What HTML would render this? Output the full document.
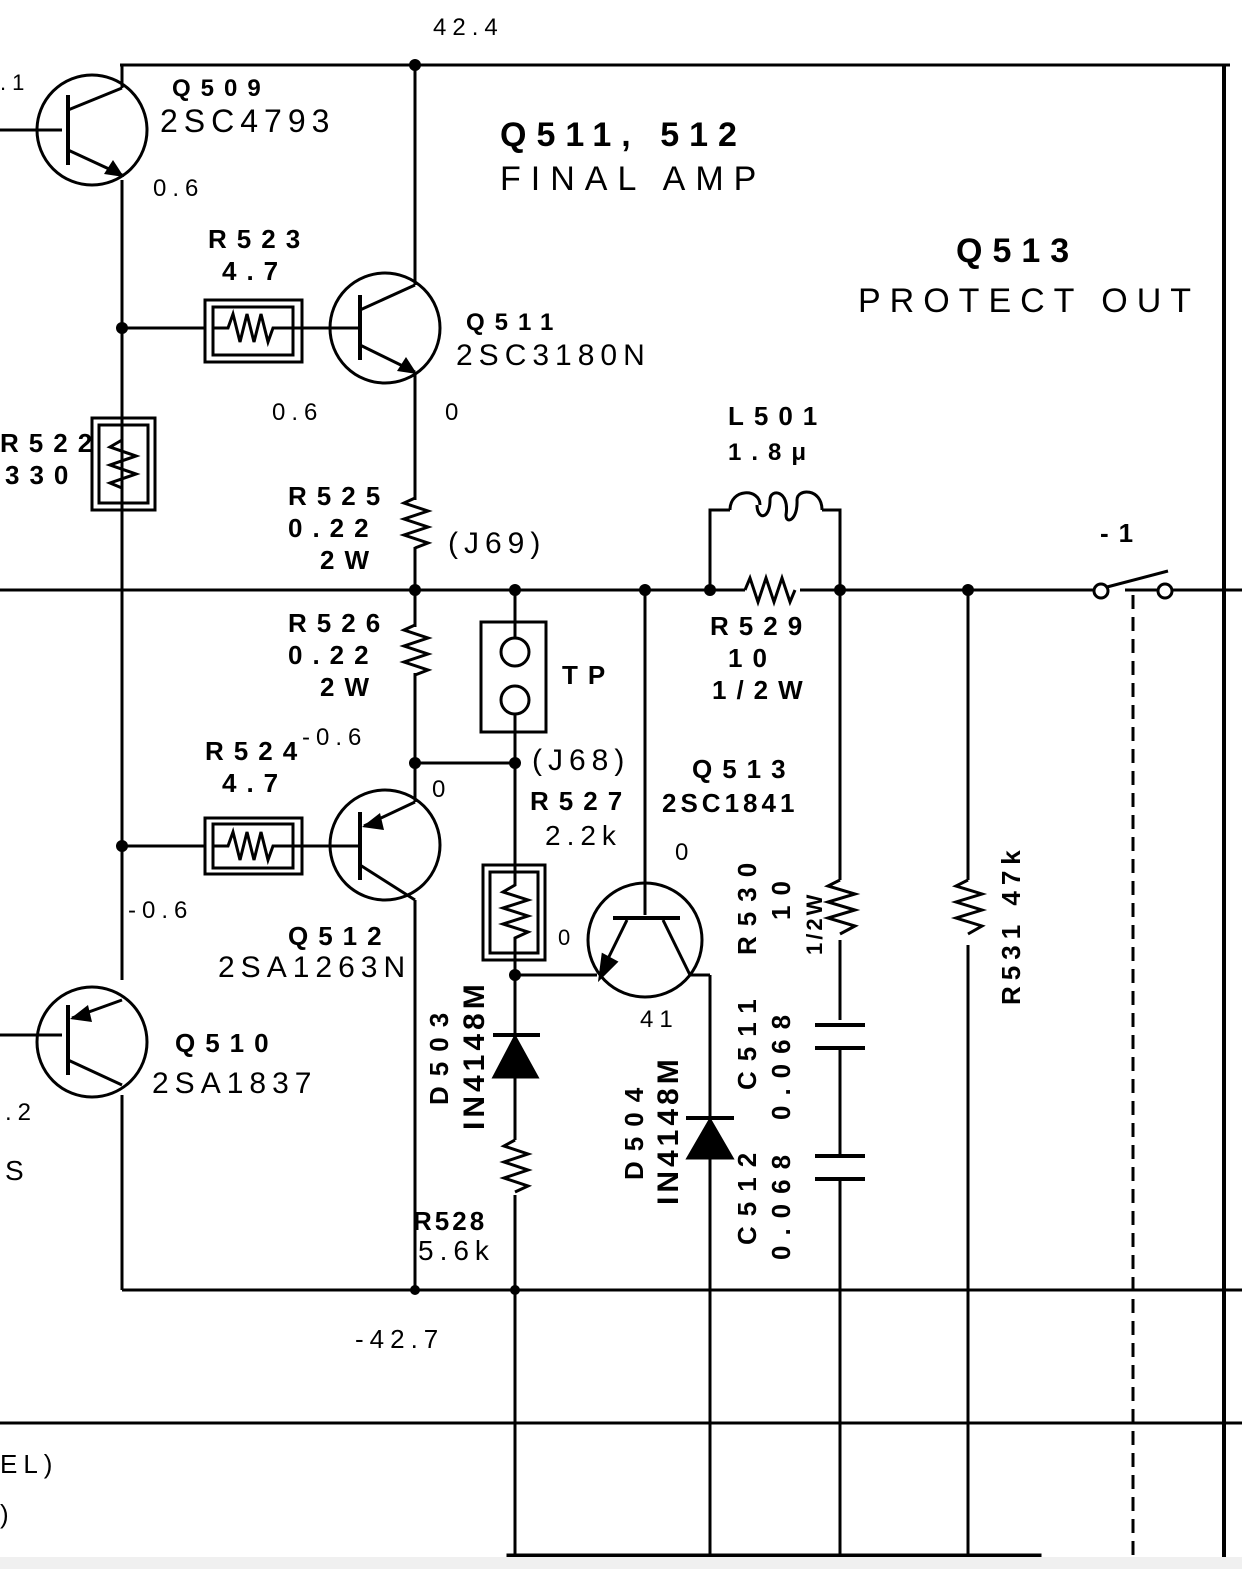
<!DOCTYPE html>
<html><head><meta charset="utf-8"><style>
html,body{margin:0;padding:0;background:#fff;}
svg{display:block;}
text{font-family:"Liberation Sans",sans-serif;fill:#000;}
.m text{letter-spacing:6px;}
.b text{font-weight:bold;letter-spacing:10px;}
</style></head><body>
<svg width="1242" height="1569" viewBox="0 0 1242 1569" xmlns="http://www.w3.org/2000/svg">
<g stroke="#000" stroke-width="3" fill="none">
<line x1="120" y1="65" x2="1230" y2="65"/>
<line x1="1224" y1="65" x2="1224" y2="1560" stroke-width="4"/>
<line x1="122" y1="180" x2="122" y2="980"/>
<line x1="122" y1="1095" x2="122" y2="1290"/>
<line x1="122" y1="1290" x2="1242" y2="1290"/>
<line x1="0" y1="1423" x2="1242" y2="1423"/>
<line x1="0" y1="590" x2="1242" y2="590"/>
<circle cx="92" cy="130" r="55"/>
<line x1="0" y1="130" x2="62" y2="130"/>
<line x1="68" y1="95" x2="68" y2="165" stroke-width="4"/>
<line x1="68" y1="110" x2="122" y2="88"/>
<line x1="122" y1="88" x2="122" y2="65"/>
<line x1="68" y1="150" x2="122" y2="175"/>
<circle cx="92" cy="1042" r="55"/>
<line x1="0" y1="1035" x2="62" y2="1035"/>
<line x1="68" y1="1005" x2="68" y2="1075" stroke-width="4"/>
<line x1="72" y1="1018" x2="122" y2="1000"/>
<line x1="68" y1="1060" x2="122" y2="1085"/>
<circle cx="385" cy="328" r="55"/>
<line x1="360" y1="295" x2="360" y2="360" stroke-width="4"/>
<line x1="300" y1="328" x2="360" y2="328"/>
<line x1="360" y1="310" x2="415" y2="285"/>
<line x1="360" y1="345" x2="415" y2="372"/>
<line x1="415" y1="65" x2="415" y2="285"/>
<line x1="415" y1="372" x2="415" y2="802"/>
<circle cx="385" cy="845" r="55"/>
<line x1="360" y1="812" x2="360" y2="880" stroke-width="4"/>
<line x1="300" y1="846" x2="360" y2="846"/>
<line x1="364" y1="826" x2="415" y2="802"/>
<line x1="360" y1="865" x2="415" y2="900"/>
<line x1="415" y1="900" x2="415" y2="1290"/>
<line x1="122" y1="328" x2="205" y2="328"/>
<rect x="205" y="300" width="97" height="62"/>
<rect x="213" y="307" width="80" height="48"/>
<polyline points="213,328 228,328 233,314 240,342 247,314 254,342 261,314 268,342 273,328 293,328"/>
<line x1="293" y1="328" x2="330" y2="328"/>
<line x1="122" y1="846" x2="205" y2="846"/>
<rect x="205" y="818" width="97" height="56"/>
<rect x="213" y="824" width="80" height="44"/>
<polyline points="213,846 228,846 233,832 240,860 247,832 254,860 261,832 268,860 273,846 293,846"/>
<line x1="293" y1="846" x2="330" y2="846"/>
<rect x="92" y="418" width="63" height="92"/>
<rect x="99" y="425" width="49" height="78"/>
<polyline points="122,418 122,440 110,447 136,456 110,465 136,474 110,483 122,488 122,510"/>
<polyline stroke="#fff" stroke-width="5" points="415,500 415,547"/>
<polyline points="415,498 404,503 428,511 404,519 428,527 404,535 428,543 415,548"/>
<polyline stroke="#fff" stroke-width="5" points="415,627 415,673"/>
<polyline points="415,625 404,630 428,638 404,646 428,654 404,662 428,670 415,675"/>
<line x1="515" y1="590" x2="515" y2="1569"/>
<rect x="481" y="622" width="65" height="110" fill="#fff"/>
<line x1="515" y1="622" x2="515" y2="638"/>
<line x1="515" y1="714" x2="515" y2="732"/>
<circle cx="515" cy="652" r="14" fill="#fff"/>
<circle cx="515" cy="700" r="14" fill="#fff"/>
<line x1="415" y1="763" x2="515" y2="763"/>
<rect x="483" y="865" width="62" height="95" fill="#fff"/>
<rect x="490" y="872" width="48" height="81"/>
<polyline points="515,865 515,885 503,892 528,900 503,908 528,916 503,924 528,932 515,938 515,960"/>
<line x1="515" y1="975" x2="597" y2="975"/>
<line x1="493" y1="1035" x2="540" y2="1035" stroke-width="4"/>
<polygon points="515,1037 494,1077 537,1077" fill="#000"/>
<polyline stroke="#fff" stroke-width="5" points="515,1140 515,1195"/>
<polyline points="515,1140 504,1146 528,1154 504,1162 528,1170 504,1178 528,1186 515,1192"/>
<line x1="645" y1="590" x2="645" y2="915"/>
<circle cx="645" cy="940" r="57"/>
<line x1="613" y1="918" x2="680" y2="918" stroke-width="4"/>
<line x1="627" y1="920" x2="600" y2="975"/>
<polygon points="600,978 603,955 616,962" fill="#000"/>
<line x1="663" y1="920" x2="690" y2="975"/>
<line x1="690" y1="975" x2="710" y2="975"/>
<line x1="710" y1="975" x2="710" y2="1569"/>
<line x1="686" y1="1118" x2="734" y2="1118" stroke-width="4"/>
<polygon points="710,1120 688,1158 732,1158" fill="#000"/>
<polyline points="710,590 710,510 730,510"/>
<path d="M730,510 C730,488 760,488 760,505 M757,505 C757,520 770,520 770,500 C770,488 790,490 786,515 C786,525 798,520 797,500 C797,488 822,488 822,510"/>
<polyline points="822,510 840,510 840,1569"/>
<polyline stroke="#fff" stroke-width="5" points="745,590 800,590"/>
<polyline points="745,590 750,578 758,602 766,578 774,602 782,578 790,602 795,590"/>
<polyline stroke="#fff" stroke-width="5" points="840,880 840,940"/>
<polyline points="840,880 828,886 855,894 828,902 855,910 828,918 855,926 840,934"/>
<line x1="840" y1="1020" x2="840" y2="1048" stroke="#fff" stroke-width="6"/>
<line x1="815" y1="1025" x2="865" y2="1025" stroke-width="4"/>
<line x1="815" y1="1048" x2="865" y2="1048" stroke-width="4"/>
<line x1="840" y1="1157" x2="840" y2="1178" stroke="#fff" stroke-width="6"/>
<line x1="815" y1="1156" x2="865" y2="1156" stroke-width="4"/>
<line x1="815" y1="1179" x2="865" y2="1179" stroke-width="4"/>
<line x1="968" y1="590" x2="968" y2="1569"/>
<polyline stroke="#fff" stroke-width="5" points="968,880 968,945"/>
<polyline points="968,880 956,886 982,894 956,902 982,910 956,918 982,926 968,934"/>
<line x1="1090" y1="590" x2="1125" y2="590" stroke="#fff" stroke-width="6"/>
<line x1="1070" y1="590" x2="1093" y2="590"/>
<circle cx="1101" cy="591" r="7" fill="#fff"/>
<circle cx="1165" cy="591" r="7" fill="#fff"/>
<line x1="1173" y1="590" x2="1242" y2="590" />
<line x1="1107" y1="587" x2="1168" y2="571"/>
<line x1="1133" y1="595" x2="1133" y2="1569" stroke-dasharray="14,8"/>
<rect x="508" y="1555" width="532" height="14" fill="#000"/>
</g>
<g fill="#000">
<polygon points="124,177 104,174 113,160"/>
<polygon points="417,374 397,371 406,357"/>
<polygon points="362,827 380,813 384,830"/>
<polygon points="70,1019 88,1005 92,1022"/>
<circle cx="415" cy="65" r="6"/><circle cx="122" cy="328" r="6"/><circle cx="122" cy="846" r="6"/>
<circle cx="415" cy="590" r="6"/><circle cx="515" cy="590" r="6"/><circle cx="645" cy="590" r="6"/>
<circle cx="710" cy="590" r="6"/><circle cx="840" cy="590" r="6"/><circle cx="968" cy="590" r="6"/>
<circle cx="415" cy="763" r="6"/><circle cx="515" cy="763" r="6"/><circle cx="515" cy="975" r="6"/>
<circle cx="415" cy="1290" r="5"/><circle cx="515" cy="1290" r="5"/>
</g>
<rect x="0" y="1557" width="1242" height="12" fill="#f0f0f0"/>
<g class="m">
<text x="433" y="35" font-size="24">42.4</text>
<text x="160" y="132" font-size="32">2SC4793</text>
<text x="500" y="146" font-size="34" font-weight="bold" style="letter-spacing:10px">Q511, 512</text>
<text x="500" y="190" font-size="34" style="letter-spacing:10px">FINAL AMP</text>
<text x="956" y="262" font-size="34" font-weight="bold" style="letter-spacing:10px">Q513</text>
<text x="858" y="312" font-size="34" style="letter-spacing:9px">PROTECT OUT</text>
<text x="153" y="196" font-size="24">0.6</text>
<text x="272" y="420" font-size="24">0.6</text>
<text x="445" y="420" font-size="24">0</text>
<text x="456" y="365" font-size="30">2SC3180N</text>
<text x="448" y="553" font-size="30">(J69)</text>
<text x="532" y="770" font-size="30">(J68)</text>
<text x="545" y="845" font-size="28">2.2k</text>
<text x="302" y="745" font-size="24">-0.6</text>
<text x="432" y="797" font-size="24">0</text>
<text x="128" y="918" font-size="24">-0.6</text>
<text x="218" y="977" font-size="30">2SA1263N</text>
<text x="152" y="1093" font-size="30">2SA1837</text>
<text x="558" y="945" font-size="22">0</text>
<text x="675" y="860" font-size="24">0</text>
<text x="640" y="1027" font-size="24">41</text>
<text x="418" y="1260" font-size="28">5.6k</text>
<text x="355" y="1348" font-size="26">-42.7</text>
<text x="5" y="1120" font-size="24">.2</text>
<text x="5" y="1180" font-size="28">S</text>
<text x="0" y="1473" font-size="26">EL)</text>
<text x="0" y="1523" font-size="26">)</text>
<text x="0" y="90" font-size="22">.1</text>
</g>
<g class="b" font-size="26">
<text x="172" y="96" font-size="24">Q509</text>
<text x="208" y="248">R523</text><text x="222" y="280">4.7</text>
<text x="0" y="452">R522</text><text x="5" y="484">330</text>
<text x="466" y="330" font-size="24">Q511</text>
<text x="728" y="425">L501</text><text x="728" y="460" font-size="24">1.8μ</text>
<text x="288" y="505">R525</text><text x="288" y="537">0.22</text><text x="320" y="569">2W</text>
<text x="288" y="632">R526</text><text x="288" y="664">0.22</text><text x="320" y="696">2W</text>
<text x="562" y="684">TP</text>
<text x="1100" y="542">-1</text>
<text x="710" y="635">R529</text><text x="728" y="667">10</text><text x="712" y="699">1/2W</text>
<text x="205" y="760">R524</text><text x="222" y="792">4.7</text>
<text x="692" y="778">Q513</text><text x="662" y="812" style="letter-spacing:4px">2SC1841</text>
<text x="530" y="810">R527</text>
<text x="288" y="945">Q512</text>
<text x="175" y="1052">Q510</text>
<text x="413" y="1230" style="letter-spacing:3px">R528</text>
<text transform="translate(448,1105) rotate(-90)">D503</text>
<text transform="translate(484,1130) rotate(-90)" font-weight="normal" font-size="30" style="letter-spacing:4px">IN4148M</text>
<text transform="translate(643,1180) rotate(-90)">D504</text>
<text transform="translate(678,1205) rotate(-90)" font-weight="normal" font-size="30" style="letter-spacing:4px">IN4148M</text>
<text transform="translate(756,955) rotate(-90)">R530</text>
<text transform="translate(790,920) rotate(-90)">10</text>
<text transform="translate(822,955) rotate(-90)" font-size="22" style="letter-spacing:3px">1/2W</text>
<text transform="translate(756,1090) rotate(-90)">C511</text>
<text transform="translate(790,1120) rotate(-90)">0.068</text>
<text transform="translate(756,1245) rotate(-90)">C512</text>
<text transform="translate(790,1260) rotate(-90)">0.068</text>
<text transform="translate(1020,1005) rotate(-90)" style="letter-spacing:6px">R531  47k</text>
</g>
</svg>
</body></html>
